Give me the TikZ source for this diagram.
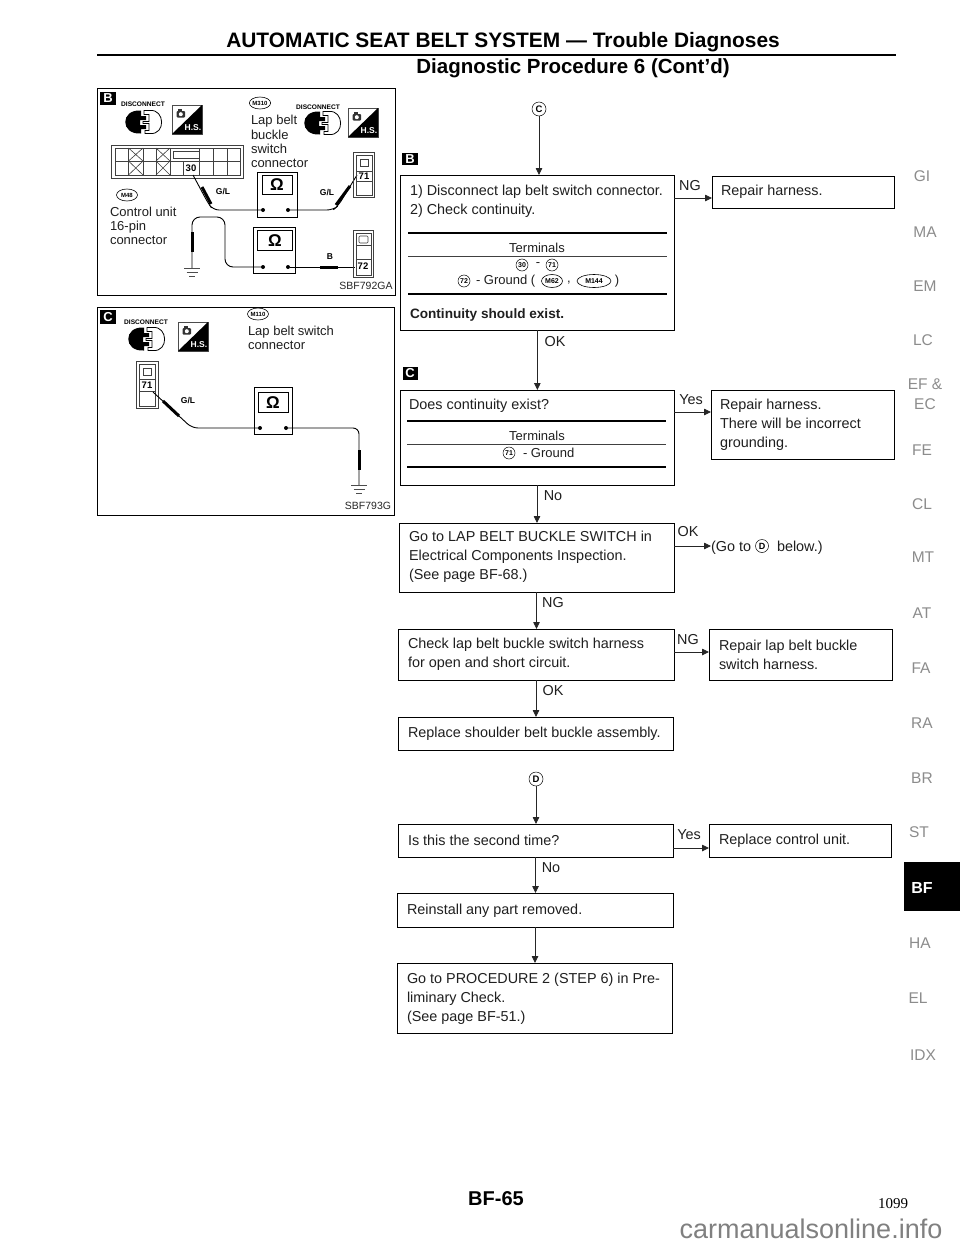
\documentclass[tikz,border=0pt]{standalone}
\usepackage{fontspec}
\setmainfont{Liberation Sans}
\newfontfamily\serifnum{Liberation Serif}
\usetikzlibrary{arrows.meta,shapes.geometric,calc}
\newcommand{\fs}[1]{\fontsize{#1}{#1}\selectfont}
\tikzset{
 box/.style={draw=black,line width=0.9pt,inner sep=0pt,outer sep=0pt,fill=white},
 txt/.style={inner sep=0pt,outer sep=0pt,font=\fs{14.4},align=left,text=black!88,yshift=-1.5pt},
 lines/.style={txt,anchor=west,font=\fontsize{14.4}{18.8}\selectfont},
 small/.style={txt,font=\fs{13},anchor=center,yshift=1.5pt},
 lab/.style={txt,font=\fs{14.4},anchor=center,yshift=1pt},
 ptxt/.style={txt,font=\fontsize{13}{14}\selectfont,anchor=west},
 flow/.style={line width=0.8pt,draw=black!85,-{Triangle[length=7pt,width=6.5pt]}},
 thickrule/.style={line width=1.6pt,draw=black},
 thinrule/.style={line width=0.7pt,draw=black!75},
 blk/.style={fill=black,text=white,font=\bfseries\fs{13},inner sep=0pt,minimum width=16pt,minimum height=13.5pt,outer sep=0pt},
 ctag/.style={circle,draw=black,line width=0.5pt,inner sep=0pt,minimum size=12pt,font=\bfseries\fs{7},outer sep=0pt},
 bigc/.style={ctag,minimum size=14pt,font=\bfseries\fs{9.5}},
 etag/.style={ellipse,draw=black,line width=0.6pt,inner sep=0pt,minimum height=13pt,font=\bfseries\fs{7},outer sep=0pt},
 ptag/.style={etag,minimum height=12pt,minimum width=21pt,font=\bfseries\fs{6}},
 side/.style={inner sep=0pt,font=\fontsize{15.5}{20}\selectfont,text=black!45,align=center},
 dsc/.style={inner sep=0pt,font=\bfseries\fs{6.6},text=black},
 gl/.style={inner sep=0pt,font=\bfseries\fs{8.5},text=black},
 code/.style={inner sep=0pt,font=\fs{10.5},text=black!85},
 wire/.style={line width=0.9pt,draw=black,rounded corners=6pt},
 probe/.style={line width=3pt,draw=black},
 dot/.style={circle,fill=black,inner sep=0pt,minimum size=4pt,outer sep=0pt},
 cell/.style={draw=black!75,line width=0.6pt},
}
\newcommand{\bx}[5]{\pgfmathsetmacro\bw{#4-#2}\pgfmathsetmacro\bh{#5-#3}\node[box,anchor=north west,minimum width=\bw pt,minimum height=\bh pt] (#1) at (#2,#3) {};}
\newcommand{\discicon}[2]{\begin{scope}[shift={(#1,#2)}]
 \fill[black] (-2,-11.5) .. controls (-23,-13) and (-23,13) .. (-2,11.5) -- (-2,7) -- (3,7) -- (3,3) -- (-3,3) -- (-3,-2) -- (3,-2) -- (3,-6) -- (-2,-6) -- cycle;
 \draw[line width=0.8pt] (1,-11.5) -- (7,-11.5) .. controls (22,-13) and (23,13) .. (7,11.5) -- (2,11.5) -- (2,8.5) -- (6,8.5) -- (6,1.5) -- (0,1.5) -- (0,-0.5) -- (6,-0.5) -- (6,-7.5) -- (1,-7.5) -- cycle;
\end{scope}}
\newcommand{\hsicon}[3]{\begin{scope}[shift={(#1,#2)}]
 \draw[line width=0.6pt,draw=black!70] (0,0) rectangle (30,29);
 \fill[black] (30,0) -- (30,29) -- (0,29) -- cycle;
 \fill[black!80,rounded corners=1pt] (4.5,6) rectangle (13,12.5);
 \fill[black!80] (6,4) rectangle (10,6);
 \fill[white] (8.8,9.2) circle (2);
 \node[inner sep=0pt,text=white,font=\bfseries\fs{8.5}] (#3) at (21,23) {H.S.};
\end{scope}}
\newcommand{\gnd}[2]{\draw[line width=0.7pt,draw=black!70] (#1-8,#2) -- (#1+8,#2) (#1-5.5,#2+4) -- (#1+5.5,#2+4) (#1-3,#2+8) -- (#1+3,#2+8);}
\newcommand{\omeganode}[3]{\node[inner sep=0pt,font=\bfseries\fs{17}] (#1) at (#2,#3) {Ω};}
\begin{document}
\begin{tikzpicture}[x=1pt,y=-1pt]
\useasboundingbox (0,0) rectangle (960,1242);
\fill[white] (0,0) rectangle (960,1242);
% Header
\node[inner sep=0pt,font=\bfseries\fs{20.9},text=black] (title) at (503,42) {AUTOMATIC SEAT BELT SYSTEM — Trouble Diagnoses};
\coordinate (ruleL) at (97,55);
\coordinate (ruleR) at (896,55);
\draw[line width=2.6pt] (ruleL) -- (ruleR);
\node[inner sep=0pt,font=\bfseries\fs{20.5},text=black] (subtitle) at (573,68) {Diagnostic Procedure 6 (Cont'd)};
% Panel B
\bx{panelB}{97}{88}{395}{295}
\node[blk] (lblB) at (108,98.5) {B};
\node[dsc] (dsc1) at (143,104) {DISCONNECT};
\discicon{143}{122}
\hsicon{172}{105}{hs1}
\node[ptag] (m310) at (260,103) {M310};
\node[ptxt,anchor=north west,font=\fontsize{13}{14.2}\selectfont] (lapbuckle) at (251,114) {Lap belt\\buckle\\switch\\connector};
\node[dsc] (dsc2) at (318,107) {DISCONNECT};
\discicon{322}{123}
\hsicon{348}{108}{hs2}
% 16-pin connector
\draw[cell] (111,145) rectangle (243,178);
\draw[cell] (115,148) rectangle (240,175);
\draw[cell] (115,161) -- (240,161);
\foreach \xx in {128.5,143,156,170,183,199,213,227}{\draw[cell] (\xx,148) -- (\xx,175);}
\foreach \aa/\bb in {128.5/143,156/170}{\draw[cell] (\aa,148) -- (\bb,161) (\aa,161) -- (\bb,148) (\aa,161) -- (\bb,175) (\aa,175) -- (\bb,161);}
\fill[white] (172,149) rectangle (199,160.5);
\draw[cell] (173,151) rectangle (199,158);
\draw[cell] (183,161) -- (183,175);
\node[inner sep=0pt,font=\bfseries\fs{9.5}] (pin30) at (191,168) {30};
\node[ptag] (m48) at (127,195) {M48};
\node[ptxt] (cu) at (110,224) {Control unit\\[0pt]16-pin\\connector};
% Meter B1
\bx{meter1}{257}{172}{297}{217}
\bx{meter1i}{262}{175}{292}{194}
\omeganode{om1}{277}{184.5}
\node[dot] (d1a) at (263,210) {};
\node[dot] (d1b) at (288,210) {};
\coordinate (p30) at (193,175);
\coordinate (p71) at (357,175);
\draw[wire] (p30) -- (208,203) -- (213,210) -- (d1a);
\draw[probe] (202,187) -- (211,204);
\node[gl] (gl1) at (223,192) {G/L};
\draw[wire] (d1b) -- (333,210) -- (338,206) -- (p71);
\draw[probe] (336,205) -- (350,186);
\node[gl] (gl2) at (327,193) {G/L};
% Connector 71
\draw[cell] (353,152) rectangle (374,197);
\draw[cell] (356,155) rectangle (372,195);
\draw[cell] (356,171) -- (372,171) (356,181) -- (372,181);
\draw[cell] (360,159) rectangle (368,166);
\node[inner sep=0pt,font=\bfseries\fs{9.5}] (pin71) at (364,176) {71};
% Meter B2
\bx{meter2}{253}{227}{295}{273}
\bx{meter2i}{257}{230}{292}{250}
\omeganode{om2}{275}{241}
\node[dot] (d2a) at (263,267) {};
\node[dot] (d2b) at (288,267) {};
\coordinate (gndB) at (192,268);
\draw[wire,rounded corners=8pt] (gndB) -- (192,217) -- (225,217) -- (225,267) -- (d2a);
\draw[probe] (192,232) -- (192,252);
\gnd{192}{268}
\coordinate (p72) at (355,267);
\draw[wire] (d2b) -- (p72);
\draw[probe] (320,267) -- (338,267);
\node[gl] (glB) at (330,257) {B};
\draw[cell] (353,230) rectangle (373,277);
\draw[cell] (356,233) rectangle (371,275);
\draw[cell] (356,245) -- (371,245) (356,259) -- (371,259);
\draw[cell,rounded corners=1pt] (359,236) rectangle (368,243);
\node[inner sep=0pt,font=\bfseries\fs{9.5}] (pin72) at (363,266) {72};
\node[code] (sbf1) at (366,286) {SBF792GA};
% Panel C
\bx{panelC}{97}{307}{394}{515}
\node[blk] (lblC) at (108,317) {C};
\node[dsc] (dsc3) at (146,322) {DISCONNECT};
\discicon{146}{339}
\hsicon{178}{322}{hs3}
\node[ptag] (m110) at (258,314) {M110};
\node[ptxt,anchor=north west,font=\fontsize{13}{14.2}\selectfont] (lapsw) at (248,324.5) {Lap belt switch\\connector};
\draw[cell] (136,361) rectangle (158,408);
\draw[cell] (139,364) rectangle (155,406);
\draw[cell] (139,379) -- (155,379) (139,391) -- (155,391);
\draw[cell] (143,368) rectangle (151,375);
\node[inner sep=0pt,font=\bfseries\fs{9.5}] (pin71c) at (147,385) {71};
\bx{meter3}{254}{387}{292}{434}
\bx{meter3i}{258}{392}{288}{412}
\omeganode{om3}{273}{403}
\node[dot] (d3a) at (260,428) {};
\node[dot] (d3b) at (286,428) {};
\coordinate (p71c) at (153,392);
\draw[wire] (p71c) -- (192,428) -- (d3a);
\draw[probe] (163,401) -- (179,416);
\node[gl] (gl3) at (188,401) {G/L};
\coordinate (gndC) at (359,485);
\draw[wire] (d3b) -- (359,428) -- (gndC);
\draw[probe] (359,450) -- (359,470);
\gnd{359}{485}
\node[code] (sbf2) at (368,506) {SBF793G};
% Flow: top
\node[bigc] (cC) at (539,109) {C};
\node[blk,minimum width=16pt,minimum height=12pt] (fB) at (410,159) {B};
\bx{b1}{400.7}{175}{674}{330}
\bx{r1}{712}{176}{894}{208}
\node[lines] (t1) at (410,199.5) {1) Disconnect lap belt switch connector.\\2) Check continuity.};
\draw[thickrule] (408,233) -- (667,233);
\node[small] (t2) at (537,248) {Terminals};
\draw[thinrule] (408,256) -- (667,256);
\node[ctag] (n30) at (522,265) {30};
\node[small] (t3) at (538,265) {-};
\node[ctag] (n71) at (552,265) {71};
\node[ctag] (n72) at (464,281) {72};
\node[small,anchor=west] (t4) at (476,281) {- Ground (};
\node[etag,minimum width=21pt] (m62) at (552,281) {M62};
\node[small] (t5) at (569,283) {,};
\node[etag,minimum width=34pt] (m144) at (594,281) {M144};
\node[small] (t6) at (617,281) {)};
\draw[thickrule] (408,294) -- (667,294);
\node[txt,anchor=west,font=\bfseries\fs{13.6}] (t7) at (410,313) {Continuity should exist.};
\node[txt,anchor=west] (t8) at (721,190) {Repair harness.};
\draw[flow] (cC.south) -- (cC.south |- b1.north);
\coordinate (a1) at (674,198);
\draw[flow] (a1) -- (a1 -| r1.west);
\node[lab] (ng1) at (690,185) {NG};
% second
\node[lab] (ok1) at (555,341) {OK};
\node[blk,minimum width=15pt,minimum height=13pt] (fC) at (410,373) {C};
\bx{b2}{400}{390}{674}{485}
\bx{r2}{711}{390}{894}{459}
\draw[flow] (b1.south) -- (b1.south |- b2.north);
\node[txt,anchor=west] (t9) at (409,404) {Does continuity exist?};
\draw[thickrule] (407,421) -- (666,421);
\node[small] (t10) at (537,436) {Terminals};
\draw[thinrule] (407,444) -- (666,444);
\node[ctag] (n71b) at (509,453) {71};
\node[small,anchor=west] (t11) at (523,453) {- Ground};
\draw[thickrule] (407,467) -- (666,467);
\node[lines] (t12) at (720,423) {Repair harness.\\There will be incorrect\\grounding.};
\node[lab] (yes1) at (691,399) {Yes};
\coordinate (a2) at (674,412);
\draw[flow] (a2) -- (a2 -| r2.west);
% third
\node[lab] (no1) at (553,495) {No};
\bx{b3}{399}{523}{674}{592}
\draw[flow] (b2.south) -- (b2.south |- b3.north);
\node[lines] (t13) at (409,555) {Go to LAP BELT BUCKLE SWITCH in\\Electrical Components Inspection.\\(See page BF-68.)};
\node[lab] (ok2) at (688,531) {OK};
\coordinate (a3) at (674,546);
\node[txt,anchor=west] (t14) at (711,546) {(Go to};
\node[bigc,minimum size=13pt,font=\bfseries\fs{9}] (cD1) at (762,546) {D};
\node[txt,anchor=west] (t15) at (777,546) {below.)};
\draw[flow] (a3) -- (a3 -| t14.west);
% fourth
\node[lab] (ng2) at (553,602) {NG};
\bx{b4}{398}{629}{674}{680}
\bx{r4}{709}{629}{892}{680}
\draw[flow] (b3.south) -- (b3.south |- b4.north);
\node[lines] (t16) at (408,653) {Check lap belt buckle switch harness\\for open and short circuit.};
\node[lines] (t17) at (719,653) {Repair lap belt buckle\\switch harness.};
\node[lab] (ng3) at (688,639) {NG};
\coordinate (a4) at (674,652);
\draw[flow] (a4) -- (a4 -| r4.west);
% fifth
\node[lab] (ok3) at (553,690) {OK};
\bx{b5}{398}{717}{673}{750}
\draw[flow] (b4.south) -- (b4.south |- b5.north);
\node[txt,anchor=west] (t18) at (408,732) {Replace shoulder belt buckle assembly.};
% D part
\node[bigc] (cD2) at (536,779) {D};
\bx{b6}{398}{824}{673}{857}
\bx{r6}{709}{824}{891}{857}
\draw[flow] (cD2.south) -- (cD2.south |- b6.north);
\node[txt,anchor=west] (t19) at (408,839) {Is this the second time?};
\node[txt,anchor=west] (t20) at (719,839) {Replace control unit.};
\node[lab] (yes2) at (689,834) {Yes};
\coordinate (a6) at (673,848);
\draw[flow] (a6) -- (a6 -| r6.west);
\node[lab] (no2) at (551,867) {No};
\bx{b7}{397}{893}{673}{927}
\draw[flow] (b6.south) -- (b6.south |- b7.north);
\node[txt,anchor=west] (t21) at (407,909) {Reinstall any part removed.};
\bx{b8}{397}{963}{672}{1033}
\draw[flow] (b7.south) -- (b7.south |- b8.north);
\node[lines] (t22) at (407,997) {Go to PROCEDURE 2 (STEP 6) in Pre-\\liminary Check.\\(See page BF-51.)};
% Side index
\node[side] (sGI) at (922,176) {GI};
\node[side] (sMA) at (925,232) {MA};
\node[side] (sEM) at (925,286) {EM};
\node[side] (sLC) at (923,340) {LC};
\node[side] (sEF) at (925,394) {EF \&\\EC};
\node[side] (sFE) at (922,450) {FE};
\node[side] (sCL) at (922,504) {CL};
\node[side] (sMT) at (923,557) {MT};
\node[side] (sAT) at (922,613) {AT};
\node[side] (sFA) at (921,668) {FA};
\node[side] (sRA) at (922,723) {RA};
\node[side] (sBR) at (922,778) {BR};
\node[side] (sST) at (919,832) {ST};
\node[fill=black,anchor=north west,minimum width=56pt,minimum height=49pt,inner sep=0pt,outer sep=0pt] (sBFbox) at (904,862) {};
\node[inner sep=0pt,text=white,font=\bfseries\fs{16}] (sBF) at (922,888) {BF};
\node[side] (sHA) at (920,943) {HA};
\node[side] (sEL) at (918,998) {EL};
\node[side] (sIDX) at (923,1055) {IDX};
% Footer
\node[inner sep=0pt,font=\bfseries\fs{20}] (page) at (496,1199) {BF-65};
\node[inner sep=0pt,font=\serifnum\fs{15}] (pnum) at (893,1204) {1099};
\node[inner sep=0pt,font=\fs{27},text=black!50,anchor=base] (wm) at (811,1238) {carmanualsonline.info};
\end{tikzpicture}
\end{document}
